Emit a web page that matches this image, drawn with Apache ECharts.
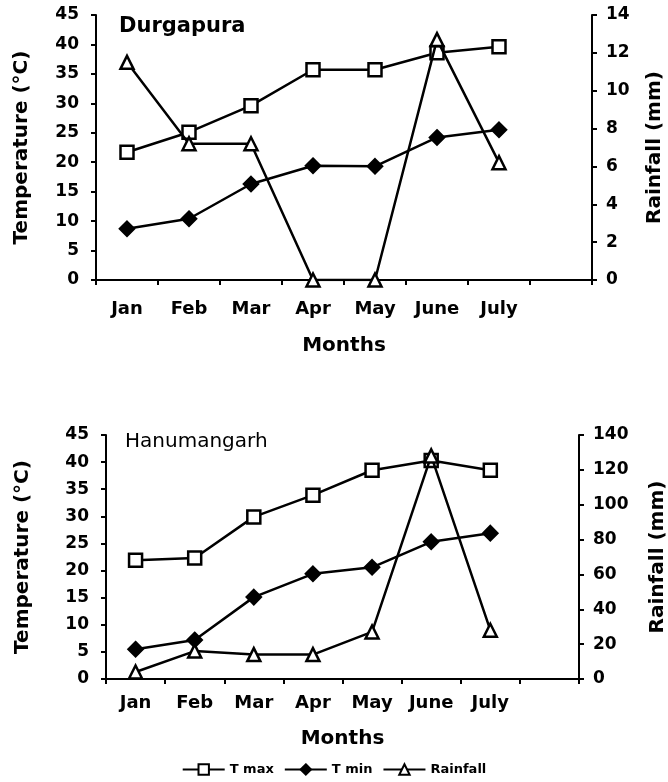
<!DOCTYPE html>
<html>
<head>
<meta charset="utf-8">
<script src="https://cdn.jsdelivr.net/npm/echarts@6/dist/echarts.min.js"></script>
<style>
  html, body { margin: 0; padding: 0; background: #fff; }
  #chart { width: 668px; height: 782px; }
</style>
</head>
<body>
<div id="chart"></div>
<script>
// months, last slot left empty like the original plot
const months = ['Jan', 'Feb', 'Mar', 'Apr', 'May', 'June', 'July', ''];

// Durgapura
const durgTmax = [21.7, 25.1, 29.6, 35.7, 35.7, 38.6, 39.6];
const durgTmin = [8.7, 10.4, 16.3, 19.4, 19.3, 24.2, 25.5];
const durgRain = [11.5, 7.2, 7.2, 0, 0, 12.7, 6.2];

// Hanumangarh
const hanuTmax = [21.9, 22.3, 29.9, 33.9, 38.5, 40.3, 38.5];
const hanuTmin = [5.5, 7.2, 15.1, 19.4, 20.6, 25.3, 26.9];
const hanuRain = [4, 16, 14, 14, 27, 128, 28];

const black = '#000';
const font = 'DejaVu Sans, sans-serif';

function valueAxis(gridIndex, max, interval, pos, name, nameGap, margin) {
  return {
    type: 'value', gridIndex: gridIndex, position: pos,
    min: 0, max: max, interval: interval,
    name: name, nameLocation: 'middle', nameRotate: 90, nameGap: nameGap,
    nameTextStyle: { color: black, fontSize: 20, fontFamily: font, fontWeight: 'bold' },
    axisLine: { show: true, lineStyle: { color: black, width: 2 } },
    axisTick: { show: true, inside: false, length: 5, lineStyle: { color: black, width: 2 } },
    axisLabel: { color: black, fontSize: 17, fontFamily: font, fontWeight: 'bold', margin: margin },
    splitLine: { show: false }
  };
}

function catAxis(gridIndex, margin, nameGap) {
  return {
    type: 'category', gridIndex: gridIndex, data: months, boundaryGap: true,
    name: 'Months', nameLocation: 'middle', nameGap: nameGap,
    nameTextStyle: { color: black, fontSize: 20, fontFamily: font, fontWeight: 'bold' },
    axisLine: { lineStyle: { color: black, width: 2 } },
    axisTick: { show: true, length: 5, lineStyle: { color: black, width: 2 } },
    axisLabel: { color: black, fontSize: 18, fontFamily: font, fontWeight: 'bold', margin: margin, interval: 0 }
  };
}

function lineSeries(name, data, x, y, symbol, size, fill) {
  return {
    name: name, type: 'line', data: data,
    xAxisIndex: x, yAxisIndex: y,
    symbol: symbol, symbolSize: size, showAllSymbol: true,
    lineStyle: { color: black, width: 2.5 },
    itemStyle: { color: fill, borderColor: black, borderWidth: 2.5 },
    z: symbol === 'triangle' ? 3 : 2
  };
}

const chart = echarts.init(document.getElementById('chart'));
chart.setOption({
  animation: false,
  backgroundColor: '#fff',
  title: [
    { text: 'Durgapura', left: 114, top: 11,
      textStyle: { color: black, fontSize: 21, fontWeight: 'bold', fontFamily: font } },
    { text: 'Hanumangarh', left: 120, top: 427,
      textStyle: { color: black, fontSize: 20, fontWeight: 'normal', fontFamily: font } }
  ],
  grid: [
    { left: 96, right: 76, top: 15, height: 265, outerBoundsMode: 'none' },
    { left: 106, right: 89, top: 435, height: 244, outerBoundsMode: 'none' }
  ],
  xAxis: [catAxis(0, 20, 56), catAxis(1, 15, 50)],
  yAxis: [
    valueAxis(0, 45, 5, 'left', 'Temperature (°C)', 64, 17),
    valueAxis(0, 14, 2, 'right', 'Rainfall (mm)', 53, 14),
    valueAxis(1, 45, 5, 'left', 'Temperature (°C)', 73, 17),
    valueAxis(1, 140, 20, 'right', 'Rainfall (mm)', 69, 14)
  ],
  legend: {
    bottom: 1, left: 'center',
    itemWidth: 42, itemHeight: 13, itemGap: 10,
    textStyle: { color: black, fontSize: 13, fontFamily: font, fontWeight: 'bold' },
    data: ['T max', 'T min', 'Rainfall']
  },
  series: [
    lineSeries('T max', durgTmax, 0, 0, 'rect', 13, '#fff'),
    lineSeries('T min', durgTmin, 0, 0, 'diamond', 14, black),
    lineSeries('Rainfall', durgRain, 0, 1, 'triangle', 13, '#fff'),
    lineSeries('T max', hanuTmax, 1, 2, 'rect', 13, '#fff'),
    lineSeries('T min', hanuTmin, 1, 2, 'diamond', 14, black),
    lineSeries('Rainfall', hanuRain, 1, 3, 'triangle', 13, '#fff')
  ]
});
</script>
</body>
</html>
